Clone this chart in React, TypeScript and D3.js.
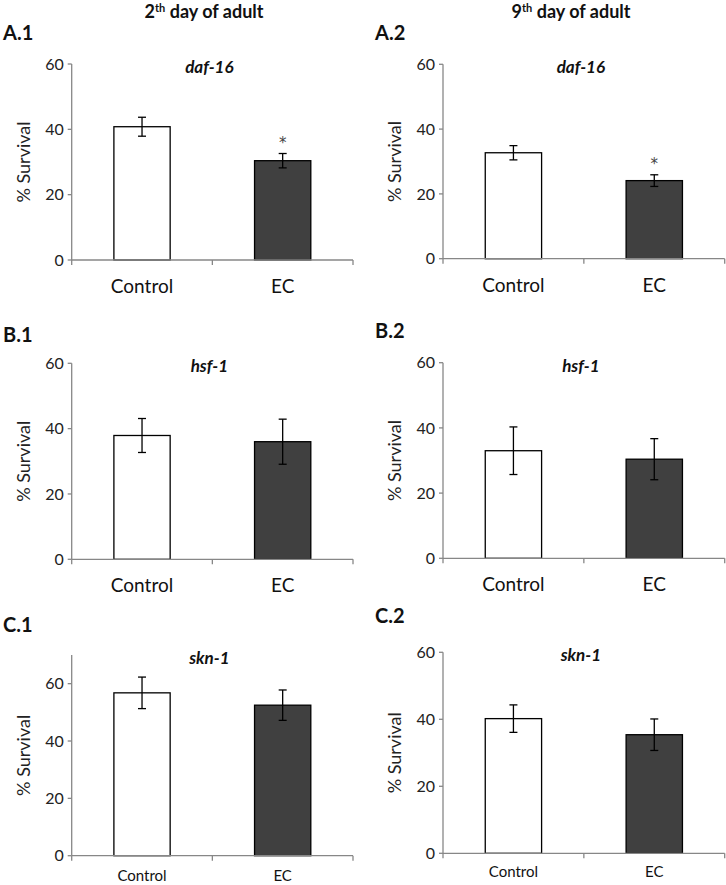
import React from "react";
import * as d3 from "d3";

const categories = ["Control", "EC"];
const panelLabels = ["A.1", "A.2", "B.1", "B.2", "C.1", "C.2"];
const geneNames = ["daf-16", "daf-16", "hsf-1", "hsf-1", "skn-1", "skn-1"];
const columnTitles = ["2", "9"];
const meanControl = [40.8, 32.7, 37.9, 33.0, 56.8, 40.2];
const meanEC = [30.4, 24.1, 36.0, 30.4, 52.5, 35.4];
const errControl = [2.9, 2.2, 5.2, 7.3, 5.5, 4.1];
const errEC = [2.2, 1.8, 6.9, 6.3, 5.3, 4.7];
const significantEC = [true, true, false, false, false, false];
const yMaxValues = [60, 60, 60, 60, 70, 60];
const yTickValues = [0, 20, 40, 60];

// layout (pixels)
const layout = [
  { x0: 71.7, x1: 353, yTop: 64, yBot: 260, lx: 3, ly: 40, xFont: 19, xOff: 33, yLabX: 24 },
  { x0: 443, x1: 724.7, yTop: 64.3, yBot: 258.7, lx: 375, ly: 40, xFont: 19, xOff: 33, yLabX: 395 },
  { x0: 71.7, x1: 353, yTop: 363.3, yBot: 559.3, lx: 3, ly: 342, xFont: 19, xOff: 33, yLabX: 24 },
  { x0: 443, x1: 724.7, yTop: 362.7, yBot: 558.3, lx: 375, ly: 338, xFont: 19, xOff: 33, yLabX: 395 },
  { x0: 71.7, x1: 353, yTop: 655, yBot: 855.7, lx: 3, ly: 632, xFont: 15, xOff: 25, yLabX: 24 },
  { x0: 443, x1: 724.7, yTop: 652.3, yBot: 853.3, lx: 375, ly: 623, xFont: 15, xOff: 24, yLabX: 395 },
];

const FONT = "Lato, 'Open Sans', sans-serif";
const AXIS = "#878787";

function Panel({ i }: { i: number }) {
  const L = layout[i];
  const x = d3.scaleBand<string>().domain(categories).range([L.x0, L.x1]).paddingInner(0.6).paddingOuter(0.3);
  const xb = d3.scaleBand<string>().domain(categories).range([L.x0, L.x1]);
  const y = d3.scaleLinear().domain([0, yMaxValues[i]]).range([L.yBot, L.yTop]);
  const means = [meanControl[i], meanEC[i]];
  const errs = [errControl[i], errEC[i]];
  const fills = ["#ffffff", "#404040"];
  const cap = 4;
  const boundaries = [L.x0, ...categories.map((c) => (xb(c) as number) + xb.bandwidth())];
  return (
    <g>
      <text x={L.lx} y={L.ly} fontFamily={FONT} fontWeight="bold" fontSize={20} fill="#111">
        {panelLabels[i]}
      </text>
      <text
        x={(L.x0 + L.x1) / 2 - 3}
        y={L.yTop + 9}
        textAnchor="middle"
        fontFamily={FONT}
        fontWeight="bold"
        fontStyle="italic"
        fontSize={17}
        fill="#111"
      >
        {geneNames[i]}
      </text>
      {/* y axis */}
      <line x1={L.x0} x2={L.x0} y1={L.yTop} y2={L.yBot} stroke={AXIS} strokeWidth={1.3} />
      {yTickValues.map((t) => (
        <g key={t}>
          <line x1={L.x0 - 4} x2={L.x0} y1={y(t)} y2={y(t)} stroke={AXIS} strokeWidth={1.3} />
          <text x={L.x0 - 8} y={y(t)} dy="0.35em" textAnchor="end" fontFamily={FONT} fontSize={16} fill="#222">
            {t}
          </text>
        </g>
      ))}
      <text
        transform={`translate(${L.yLabX},${(L.yTop + L.yBot) / 2}) rotate(-90)`}
        textAnchor="middle"
        dy="0.35em"
        fontFamily={FONT}
        fontSize={18}
        fill="#222"
      >
        % Survival
      </text>
      {/* bars */}
      {categories.map((c, k) => {
        const bx = x(c) as number;
        const cx = bx + x.bandwidth() / 2;
        return (
          <g key={c}>
            <rect
              x={bx}
              y={y(means[k])}
              width={x.bandwidth()}
              height={L.yBot - y(means[k])}
              fill={fills[k]}
              stroke="#000"
              strokeWidth={1.3}
            />
            <line x1={cx} x2={cx} y1={y(means[k] + errs[k])} y2={y(means[k] - errs[k])} stroke="#000" strokeWidth={1.3} />
            <line x1={cx - cap} x2={cx + cap} y1={y(means[k] + errs[k])} y2={y(means[k] + errs[k])} stroke="#000" strokeWidth={1.3} />
            <line x1={cx - cap} x2={cx + cap} y1={y(means[k] - errs[k])} y2={y(means[k] - errs[k])} stroke="#000" strokeWidth={1.3} />
            {k === 1 && significantEC[i] && (
              <text
                x={cx}
                y={y(means[k] + errs[k]) - 6}
                textAnchor="middle"
                fontFamily="'DejaVu Sans', sans-serif"
                fontSize={15}
                fill="#444"
              >
                *
              </text>
            )}
            <text
              x={cx}
              y={L.yBot + L.xOff}
              textAnchor="middle"
              fontFamily={FONT}
              fontSize={L.xFont}
              fill="#111"
            >
              {c}
            </text>
          </g>
        );
      })}
      {/* x axis */}
      <line x1={L.x0} x2={L.x1} y1={L.yBot} y2={L.yBot} stroke={AXIS} strokeWidth={1.3} />
      {boundaries.map((b, k) => (
        <line key={k} x1={b} x2={b} y1={L.yBot} y2={L.yBot + 5} stroke={AXIS} strokeWidth={1.3} />
      ))}
    </g>
  );
}

export default function App() {
  return (
    <svg
      width={726}
      height={885}
      style={{ position: "absolute", left: 0, top: 0, background: "#fff" }}
    >
      <rect width={726} height={885} fill="#fff" />
      {columnTitles.map((d, k) => (
        <text
          key={d}
          x={k === 0 ? 204 : 571}
          y={18}
          textAnchor="middle"
          fontFamily={FONT}
          fontWeight="bold"
          fontSize={18}
          fill="#111"
        >
          {d}
          <tspan fontSize={11} dy={-6}>th</tspan>
          <tspan dy={6}> day of adult</tspan>
        </text>
      ))}
      {panelLabels.map((_, i) => (
        <Panel key={i} i={i} />
      ))}
    </svg>
  );
}
